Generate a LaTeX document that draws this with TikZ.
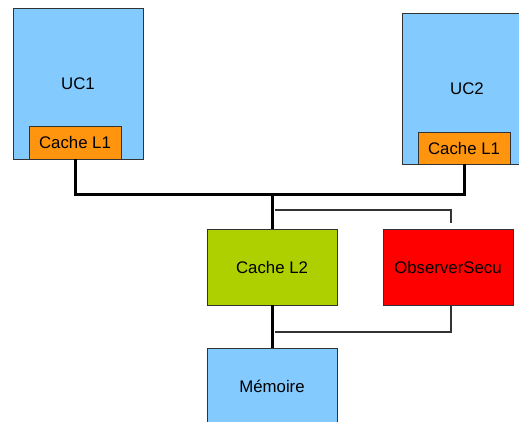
\documentclass[tikz,border=0pt]{standalone}
\usepackage{fontspec}
\setmainfont{Liberation Sans}
\definecolor{ucblue}{HTML}{83CAFF}
\definecolor{cacheorange}{HTML}{FF950E}
\definecolor{l2green}{HTML}{AECF00}
\definecolor{obsred}{HTML}{FF0000}
\definecolor{edgegray}{HTML}{333333}
\begin{document}
\begin{tikzpicture}[x=1pt,y=1pt,
  box/.style={draw=edgegray,line width=0.9pt,rectangle,inner sep=0pt,font=\fontsize{16.8}{20}\selectfont},
  bus/.style={line width=3pt,black},
  probe/.style={line width=1.4pt,edgegray}]
\useasboundingbox (0,0) rectangle (519,-421);
\node[box,fill=ucblue,minimum width=130,minimum height=151] (uc1) at (78,-83.5) {UC1};
\node[box,fill=cacheorange,minimum width=92,minimum height=33] (c1) at (75,-142.5) {Cache L1};
\node[box,fill=ucblue,minimum width=130,minimum height=151] (uc2) at (467,-88.5) {UC2};
\node[box,fill=cacheorange,minimum width=92,minimum height=32] (c2) at (464,-148) {Cache L1};
\node[box,fill=l2green,minimum width=130,minimum height=76] (l2) at (272,-267) {Cache L2};
\node[box,fill=obsred,minimum width=130,minimum height=76] (obs) at (448,-267) {ObserverSecu};
\node[box,fill=ucblue,minimum width=130,minimum height=77] (mem) at (272,-386.5) {Mémoire};
\coordinate (busm) at (272,-194);
\draw[bus] (c1.south) |- (busm) -| (c2.south);
\draw[bus] (busm) -- (l2.north);
\draw[bus] (l2.south) -- (mem.north);
\coordinate (t1) at (275,-210);
\coordinate (t2) at (451,-223);
\coordinate (o1) at (451,-305);
\coordinate (t3) at (275,-332);
\draw[probe] (t1) -| (t2);
\draw[probe] (o1) |- (t3);
\end{tikzpicture}
\end{document}
